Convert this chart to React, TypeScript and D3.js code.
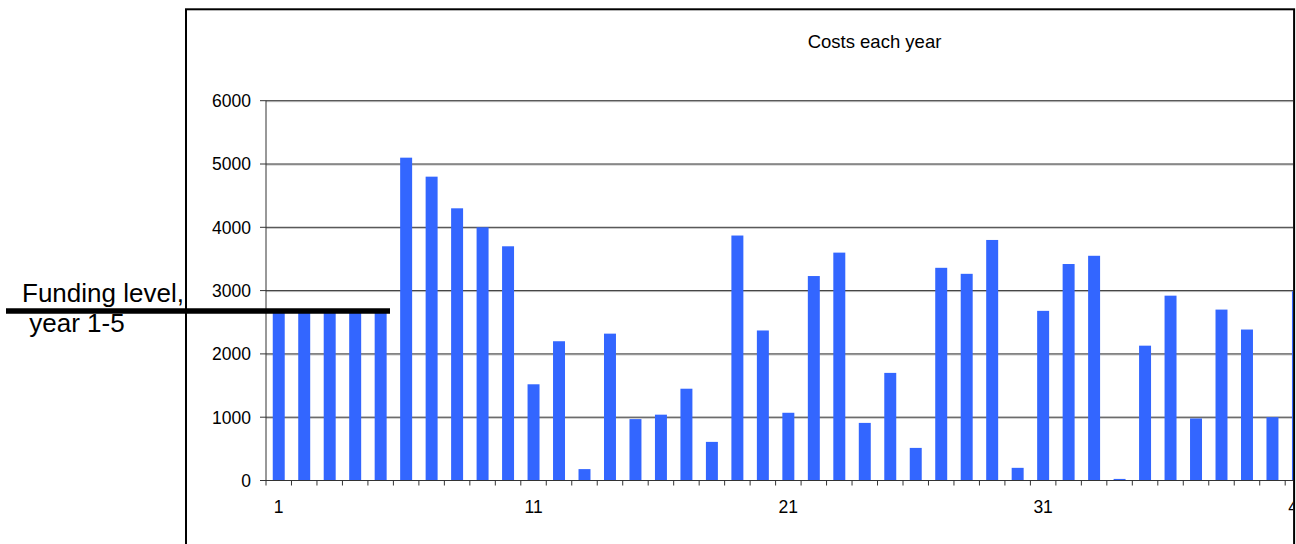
import React from "react";
import * as d3 from "d3";

const years: number[] = [1,2,3,4,5,6,7,8,9,10,11,12,13,14,15,16,17,18,19,20,21,22,23,24,25,26,27,28,29,30,31,32,33,34,35,36,37,38,39,40,41];
const costs: number[] = [2700,2700,2700,2700,2700,5100,4800,4300,4000,3700,1520,2200,180,2320,970,1040,1450,610,3870,2370,1070,3230,3600,910,1700,515,3360,3265,3800,200,2680,3420,3550,25,2130,2920,980,2700,2385,1000,2990];
const yTicks: number[] = [0,1000,2000,3000,4000,5000,6000];
const xLabelYears: number[] = [1,11,21,31,41];
const title = "Costs each year";
const fundingLevel = 2700;
const fundingLabel1 = "Funding level,";
const fundingLabel2 = " year 1-5";

const W = 1296, H = 544;
const FONT = "'Liberation Sans', Arial, Helvetica, sans-serif";

export default function App() {
  const plotLeft = 266;
  const step = 25.48;
  const plotTop = 100.7, plotBottom = 480.5;
  const boxRight = 1293.3;
  const x = d3.scaleBand<number>().domain(years).range([plotLeft, plotLeft + step * years.length]).paddingInner(0).paddingOuter(0);
  const y = d3.scaleLinear().domain([0, 6000]).range([plotBottom, plotTop]);
  const bw = x.bandwidth() * 0.47;

  return (
    <svg width={W} height={H} style={{ position: "absolute", left: 0, top: 0, background: "#fff" }} fontFamily={FONT}>
      <defs>
        <clipPath id="plotclip">
          <rect x={0} y={0} width={boxRight} height={H} />
        </clipPath>
      </defs>
      <rect x={0} y={0} width={W} height={H} fill="#fff" />
      <g clipPath="url(#plotclip)">
        {/* gridlines */}
        {yTicks.filter(t => t > 0).map(t => (
          <g key={"g" + t}>
            <line x1={plotLeft} x2={boxRight} y1={y(t) + 1} y2={y(t) + 1} stroke="#bdbdbd" strokeWidth={1} />
            <line x1={plotLeft} x2={boxRight} y1={y(t)} y2={y(t)} stroke="#333" strokeWidth={1} />
          </g>
        ))}
        {/* bars */}
        {years.map((yr, i) => {
          const cx = (x(yr) as number) + x.bandwidth() / 2;
          return (
            <rect key={"b" + yr} x={cx - bw / 2} y={y(costs[i])} width={bw} height={y(0) - y(costs[i])} fill="#3366FF" />
          );
        })}
        {/* x axis */}
        <line x1={plotLeft} x2={boxRight} y1={plotBottom} y2={plotBottom} stroke="#333" strokeWidth={1} />
        {years.concat([years.length + 1]).map((yr, i) => {
          const tx = plotLeft + step * i;
          return <line key={"t" + i} x1={tx} x2={tx} y1={plotBottom} y2={plotBottom + 5} stroke="#333" strokeWidth={1} />;
        })}
        {xLabelYears.map(yr => (
          <text key={"xl" + yr} x={(x(yr) as number) + x.bandwidth() / 2} y={513.3} textAnchor="middle" fontSize={17.5} fill="#000">{yr}</text>
        ))}
      </g>
      {/* y axis */}
      <line x1={plotLeft} x2={plotLeft} y1={plotTop} y2={plotBottom} stroke="#333" strokeWidth={1} />
      {yTicks.map(t => (
        <g key={"y" + t}>
          <line x1={plotLeft - 6} x2={plotLeft} y1={y(t)} y2={y(t)} stroke="#333" strokeWidth={1} />
          <text x={251} y={y(t)} dy="0.36em" textAnchor="end" fontSize={17.5} fill="#000">{t}</text>
        </g>
      ))}
      {/* title */}
      <text x={874.5} y={48.3} textAnchor="middle" fontSize={18.5} fill="#000">{title}</text>
      {/* outer box */}
      <rect x={186} y={9.3} width={boxRight + 0.8 - 186} height={H} fill="none" stroke="#000" strokeWidth={2} />
      {/* funding annotation */}
      <line x1={6} x2={390} y1={y(fundingLevel) + 1.5} y2={y(fundingLevel) + 1.5} stroke="#000" strokeWidth={5.5} />
      <text x={22} y={302} fontSize={26} fill="#000">{fundingLabel1}</text>
      <text x={22} y={331.7} fontSize={26} fill="#000" xmlSpace="preserve" style={{ whiteSpace: "pre" }}>{fundingLabel2}</text>
    </svg>
  );
}
